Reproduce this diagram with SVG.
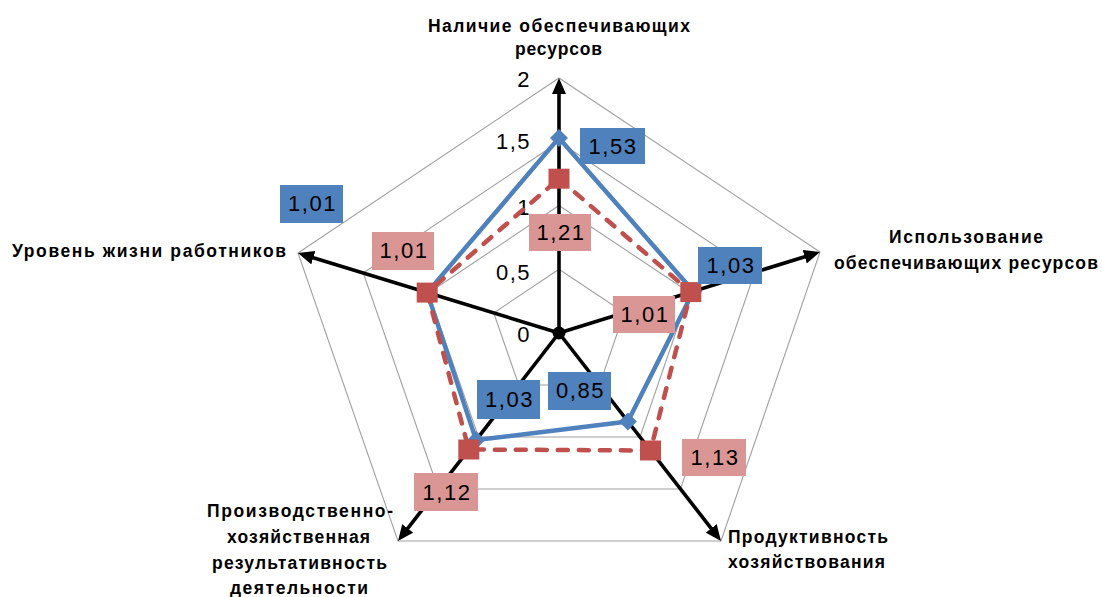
<svg xmlns="http://www.w3.org/2000/svg" width="1102" height="597" viewBox="0 0 1102 597">
  <style>
    .ring { fill: none; stroke: #A0A0A0; stroke-width: 1.1; }
    .axis { stroke: #000; stroke-width: 3.6; fill: none; marker-end: url(#arrow); }
    .blue { fill: none; stroke: #4F81BD; stroke-width: 4.5; stroke-linejoin: round; }
    .red { fill: none; stroke: #C0504D; stroke-width: 4.5; stroke-dasharray: 10 11; stroke-linecap: round; stroke-linejoin: round; }
    .bmk { fill: #4F81BD; }
    .rmk { fill: #C0504D; }
    .tick { font-family: "Liberation Sans", Arial, sans-serif; font-size: 22px; fill: #000; text-anchor: end; letter-spacing: 1.5px; }
    .title { font-family: "Liberation Sans", Arial, sans-serif; font-size: 17.5px; font-weight: bold; fill: #000; }
    .bbox { fill: #4F81BD; }
    .rbox { fill: #D99694; }
    .val { font-family: "Liberation Sans", Arial, sans-serif; font-size: 22px; fill: #000; text-anchor: middle; letter-spacing: 1.5px; }
  </style>
  <defs>
    <marker id="arrow" viewBox="0 0 16 14" refX="6" refY="7" markerWidth="16" markerHeight="14" markerUnits="userSpaceOnUse" orient="auto">
      <path d="M0,0 L16,7 L0,14 Z" fill="#000"/>
    </marker>
  </defs>
  <rect width="1102" height="597" fill="#fff"/>

  <!-- grid rings at 0.5, 1, 1.5, 2 -->
  <g id="grid">
    <polygon class="ring" points="559,269.25 624.25,312.75 599.5,385 518.75,385 493.75,313"/>
    <polygon class="ring" points="559,205.5 689.5,292.5 640,437 478.5,437 428.5,293"/>
    <polygon class="ring" points="559,141.75 754.75,272.25 680.5,489 438.25,489 363.25,273"/>
    <polygon class="ring" points="559,78 820,252 721,541 398,541 298,253"/>
  </g>

  <!-- axis scale -->
  <g id="scale">
    <text class="tick" x="531" y="342">0</text>
    <text class="tick" x="531" y="280">0,5</text>
    <text class="tick" x="531" y="215">1</text>
    <text class="tick" x="531" y="149">1,5</text>
    <text class="tick" x="531" y="87">2</text>
  </g>

  <!-- axes -->
  <g id="connectors">
    <line class="axis" x1="559" y1="333" x2="559" y2="88"/>
    <line class="axis" x1="559" y1="333" x2="810.45" y2="254.96"/>
    <line class="axis" x1="559" y1="333" x2="714.85" y2="533.1"/>
    <line class="axis" x1="559" y1="333" x2="404.12" y2="533.09"/>
    <line class="axis" x1="559" y1="333" x2="307.56" y2="255.93"/>
    <circle cx="559" cy="333" r="6.5" fill="#000"/>
  </g>

  <!-- series 1 -->
  <g id="series-blue">
    <polygon class="blue" points="559,137.9 693.4,291.3 627.85,421.4 476.1,440.1 427.2,292.6"/>
    <path class="bmk" d="M559,128.9 l9,9 l-9,9 l-9,-9 Z"/>
    <path class="bmk" d="M693.4,282.3 l9,9 l-9,9 l-9,-9 Z"/>
    <path class="bmk" d="M627.85,412.4 l9,9 l-9,9 l-9,-9 Z"/>
    <path class="bmk" d="M476.1,431.1 l9,9 l-9,9 l-9,-9 Z"/>
    <path class="bmk" d="M427.2,283.6 l9,9 l-9,9 l-9,-9 Z"/>
  </g>

  <!-- series 2 -->
  <g id="series-red">
    <polygon class="red" points="559,178.7 690.8,292.1 650.5,450.5 468.8,449.5 427.2,292.6"/>
    <rect class="rmk" x="548.5" y="168.7" width="21" height="20"/>
    <rect class="rmk" x="680.3" y="282.1" width="21" height="20"/>
    <rect class="rmk" x="640" y="440.5" width="21" height="20"/>
    <rect class="rmk" x="458.3" y="439.5" width="21" height="20"/>
    <rect class="rmk" x="416.7" y="282.6" width="21" height="20"/>
  </g>

  <!-- value labels -->
  <g id="label-b-top"><rect class="bbox" x="580" y="128" width="65" height="36"/><text class="val" x="613" y="154">1,53</text></g>
  <g id="label-r-top"><rect class="rbox" x="529" y="214" width="62" height="37"/><text class="val" x="561" y="240">1,21</text></g>
  <g id="label-b-right"><rect class="bbox" x="698" y="247" width="64" height="37"/><text class="val" x="731" y="273">1,03</text></g>
  <g id="label-r-right"><rect class="rbox" x="613" y="296" width="62" height="37"/><text class="val" x="645" y="322">1,01</text></g>
  <g id="label-b-br"><rect class="bbox" x="548" y="372" width="63" height="38"/><text class="val" x="580.5" y="398">0,85</text></g>
  <g id="label-b-bl"><rect class="bbox" x="477" y="380" width="63" height="39"/><text class="val" x="509.5" y="407">1,03</text></g>
  <g id="label-r-bl"><rect class="rbox" x="414" y="473" width="64" height="38"/><text class="val" x="447" y="500">1,12</text></g>
  <g id="label-r-br"><rect class="rbox" x="682" y="439" width="64" height="37"/><text class="val" x="715" y="465">1,13</text></g>
  <g id="label-b-left"><rect class="bbox" x="280" y="185" width="63" height="38"/><text class="val" x="312.5" y="211">1,01</text></g>
  <g id="label-r-left"><rect class="rbox" x="372" y="232" width="62" height="38"/><text class="val" x="404" y="258">1,01</text></g>

  <!-- axis titles -->
  <g id="title-top">
    <text class="title" x="428" y="32" textLength="262" lengthAdjust="spacing">Наличие обеспечивающих</text>
    <text class="title" x="515" y="55" textLength="87" lengthAdjust="spacing">ресурсов</text>
  </g>
  <g id="title-right">
    <text class="title" x="889" y="243" textLength="154" lengthAdjust="spacing">Использование</text>
    <text class="title" x="834" y="269" textLength="264" lengthAdjust="spacing">обеспечивающих ресурсов</text>
  </g>
  <g id="title-left">
    <text class="title" x="12" y="257" textLength="274" lengthAdjust="spacing">Уровень жизни работников</text>
  </g>
  <g id="title-bottom-left">
    <text class="title" x="207" y="517" textLength="186" lengthAdjust="spacing">Производственно-</text>
    <text class="title" x="227" y="543" textLength="143" lengthAdjust="spacing">хозяйственная</text>
    <text class="title" x="212" y="569" textLength="175" lengthAdjust="spacing">результативность</text>
    <text class="title" x="230" y="594" textLength="138" lengthAdjust="spacing">деятельности</text>
  </g>
  <g id="title-bottom-right">
    <text class="title" x="728" y="543" textLength="160" lengthAdjust="spacing">Продуктивность</text>
    <text class="title" x="728" y="568" textLength="157" lengthAdjust="spacing">хозяйствования</text>
  </g>
</svg>
